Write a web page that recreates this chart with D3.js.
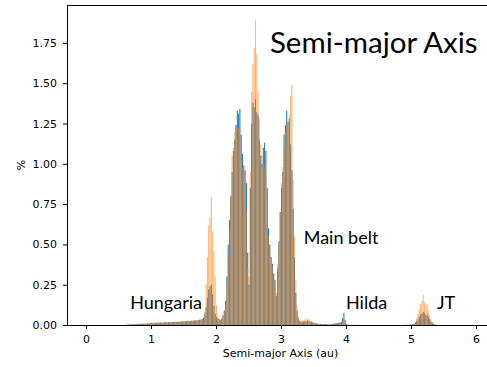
<!DOCTYPE html>
<html>
<head>
<meta charset="utf-8">
<script src="https://cdn.jsdelivr.net/npm/d3@7"></script>
<style>
  html, body { margin: 0; padding: 0; background: #fff; }
  svg { display: block; }
  .tick text { font-family: "DejaVu Sans", sans-serif; font-size: 11px; fill: #000; }
  .tick line { stroke: #000; stroke-width: 1; }
</style>
</head>
<body>
<svg id="chart" width="487" height="367"></svg>
<script>
// Histogram bins: start and width in au
const binStart = 0.60;
const binWidth = 0.02;

// Percentage per bin, first population (blue)
const blueInner = [
  0.000,0.002,0.003,0.002,0.004,0.003,0.005,0.004,0.006,0.005,0.006,0.007,0.006,0.008,0.007,0.009,0.008,0.010,0.009,0.011,
  0.012,0.011,0.013,0.014,0.012,0.015,0.014,0.016,0.013,0.015,0.017,0.016,0.015,0.018,0.017,0.016,0.019,0.018,0.017,0.020,
  0.019,0.021,0.020,0.022,0.021,0.023,0.022,0.024,0.025,0.023,0.026,0.025,0.027,0.028,0.026,0.030,0.029,0.032,0.034,0.038
];
const blueHungaria = [
  0.045,0.070,0.110,0.170,0.220,0.240,0.250,0.190,0.120,0.070,
  0.050,0.040,0.035,0.030,0.040,0.060,0.090,0.150,0.300,0.500
];
const blueMainBelt = [
  0.65,0.80,0.95,1.08,1.15,1.24,1.33,1.31,1.34,1.18,1.06,0.99,0.96,0.88,0.45,
  0.25,0.85,1.25,1.38,1.35,1.40,1.32,1.30,1.15,1.05,1.00,1.10,1.13,1.08,0.85,0.60,
  0.50,0.42,0.38,0.32,0.28,0.18,0.35,
  0.52,0.70,0.85,0.95,1.18,1.24,1.33,1.26,1.28,1.12,0.96,0.72,0.42,0.20,0.09,0.04,0.025
];
const blueHilda = [
  0.020,0.018,0.022,0.025,0.020,0.028,0.024,0.020,0.018,0.015,0.012,0.010,0.009,0.008,0.007,0.006,0.006,0.005,0.005,0.006,
  0.004,0.003,0.003,0.004,0.006,0.008,0.010,0.011,0.012,0.014,0.016,0.020,0.042,0.076,0.030,0.006,0.003,0.002,0.001,0.001
];
const blueOuter = [
  0.001,0.001,0.000,0.001,0.000,0.000,0.001,0.000,0.000,0.000,
  0.000,0.000,0.001,0.000,0.000,0.000,0.000,0.000,0.000,0.000,
  0.000,0.000,0.000,0.000,0.000,0.000,0.000,0.000,0.000,0.000,
  0.000,0.000,0.000,0.000,0.000,0.001,0.000,0.000,0.000,0.000,
  0.000,0.001,0.001,0.001,0.002
];
const blueTrojans = [
  0.002,0.004,0.008,0.015,0.025,0.035,0.050,0.065,0.070,0.080,0.075,0.060,0.065,0.050,0.035,0.020,0.012,0.006,0.003,0.001,
  0.001,0.000,0.000,0.000,0.000
];

// Percentage per bin, second population (orange)
const orangeInner = [
  0.000,0.001,0.002,0.004,0.002,0.003,0.006,0.003,0.005,0.008,0.004,0.006,0.009,0.005,0.007,0.010,0.006,0.009,0.012,0.008,
  0.011,0.014,0.010,0.016,0.012,0.020,0.013,0.015,0.018,0.012,0.016,0.022,0.014,0.017,0.015,0.020,0.016,0.018,0.024,0.017,
  0.019,0.023,0.018,0.021,0.026,0.020,0.024,0.022,0.028,0.021,0.025,0.030,0.024,0.027,0.032,0.026,0.030,0.034,0.031,0.036
];
const orangeHungaria = [
  0.040,0.080,0.250,0.420,0.620,0.670,0.790,0.580,0.460,0.300,
  0.120,0.060,0.040,0.035,0.040,0.060,0.090,0.140,0.260,0.420
];
const orangeMainBelt = [
  0.60,0.80,1.05,1.10,1.20,1.23,1.15,1.22,1.18,1.05,0.98,0.90,0.80,0.70,0.35,
  0.30,0.95,1.45,1.62,1.72,1.89,1.68,1.45,1.28,1.12,1.05,1.00,0.98,0.92,0.80,0.55,
  0.45,0.40,0.36,0.30,0.25,0.20,0.38,
  0.50,0.70,0.88,0.98,1.10,1.20,1.25,1.22,1.30,1.42,1.49,0.90,0.55,0.28,0.12,0.05,0.03
];
const orangeHilda = [
  0.025,0.030,0.022,0.035,0.040,0.028,0.038,0.030,0.025,0.020,0.016,0.012,0.010,0.008,0.006,0.005,0.004,0.004,0.003,0.004,
  0.003,0.004,0.003,0.005,0.006,0.007,0.009,0.010,0.011,0.012,0.013,0.016,0.025,0.035,0.018,0.005,0.002,0.001,0.001,0.000
];
const orangeOuter = [
  0.000,0.001,0.000,0.000,0.001,0.000,0.000,0.000,0.000,0.000,
  0.000,0.000,0.000,0.000,0.000,0.000,0.000,0.000,0.000,0.000,
  0.000,0.000,0.000,0.000,0.000,0.000,0.000,0.000,0.000,0.000,
  0.000,0.000,0.000,0.000,0.000,0.000,0.000,0.000,0.000,0.000,
  0.000,0.001,0.000,0.001,0.002
];
const orangeTrojans = [
  0.002,0.005,0.010,0.020,0.040,0.070,0.100,0.130,0.150,0.186,0.140,0.120,0.130,0.090,0.060,0.035,0.020,0.010,0.005,0.002,
  0.001,0.000,0.000,0.000,0.000
];

// Axis ticks
const xTicks = [0, 1, 2, 3, 4, 5, 6];
const yTicks = [0, 0.25, 0.5, 0.75, 1.0, 1.25, 1.5, 1.75];

// Region annotations placed in data coordinates
const regionLabels = ["Hungaria", "Main belt", "Hilda", "JT"];
const regionX = [0.68, 3.35, 4.0, 5.4];
const regionY = [0.1, 0.5, 0.1, 0.1];

const blueValues = [].concat(blueInner, blueHungaria, blueMainBelt, blueHilda, blueOuter, blueTrojans);
const orangeValues = [].concat(orangeInner, orangeHungaria, orangeMainBelt, orangeHilda, orangeOuter, orangeTrojans);

const svg = d3.select("#chart");
const mLeft = 67, mTop = 5, mBottom = 325, mRight = 494;

const x = d3.scaleLinear().domain([-0.292, 6.277]).range([mLeft, mRight]);
const y = d3.scaleLinear().domain([0, 1.985]).range([mBottom, mTop]);

const plot = svg.append("g");

// Bars fill 80% of each bin, leaving thin white seams between them
function drawBars(values, color, opacity) {
  plot.append("g")
    .selectAll("rect")
    .data(values)
    .join("rect")
    .attr("x", (d, i) => x(binStart + i * binWidth))
    .attr("width", (d, i) => 0.8 * (x(binStart + (i + 1) * binWidth) - x(binStart + i * binWidth)))
    .attr("y", d => y(d))
    .attr("height", d => y(0) - y(d))
    .attr("fill", color)
    .attr("fill-opacity", opacity);
}

drawBars(blueValues, "#1f77b4", 1);
drawBars(orangeValues, "#ff7f0e", 0.6);

// Axes
svg.append("g")
  .attr("transform", `translate(0,${mBottom})`)
  .call(d3.axisBottom(x).tickValues(xTicks).tickFormat(d3.format("d")).tickSize(4).tickSizeOuter(0).tickPadding(6))
  .call(g => g.select(".domain").remove());

svg.append("g")
  .attr("transform", `translate(${mLeft},0)`)
  .call(d3.axisLeft(y).tickValues(yTicks).tickFormat(d3.format(".2f")).tickSize(4).tickSizeOuter(0).tickPadding(6))
  .call(g => g.select(".domain").remove());

// Spines
const spines = svg.append("g").attr("stroke", "#000").attr("stroke-width", 1).attr("fill", "none");
spines.append("line").attr("x1", mLeft + 0.5).attr("x2", mLeft + 0.5).attr("y1", mTop).attr("y2", mBottom + 0.5);
spines.append("line").attr("x1", mLeft).attr("x2", mRight).attr("y1", mBottom + 0.5).attr("y2", mBottom + 0.5);
spines.append("line").attr("x1", mLeft).attr("x2", mRight).attr("y1", mTop + 0.5).attr("y2", mTop + 0.5);

// Axis titles
svg.append("text")
  .attr("x", (mLeft + mRight) / 2).attr("y", 357)
  .attr("text-anchor", "middle")
  .style("font-family", "DejaVu Sans, sans-serif").style("font-size", "11px")
  .text("Semi-major Axis (au)");

svg.append("text")
  .attr("transform", "translate(25,165) rotate(-90)")
  .attr("text-anchor", "middle")
  .style("font-family", "DejaVu Sans, sans-serif").style("font-size", "11px")
  .text("%");

// Title inside the axes
svg.append("text")
  .attr("x", x(2.83)).attr("y", y(1.69))
  .style("font-family", "Lato, sans-serif").style("font-size", "29.5px")
  .text("Semi-major Axis");

// Region labels
svg.append("g")
  .selectAll("text")
  .data(regionLabels)
  .join("text")
  .attr("x", (d, i) => x(regionX[i]))
  .attr("y", (d, i) => y(regionY[i]))
  .style("font-family", "Lato, sans-serif").style("font-size", "18px")
  .text(d => d);
</script>
</body>
</html>
